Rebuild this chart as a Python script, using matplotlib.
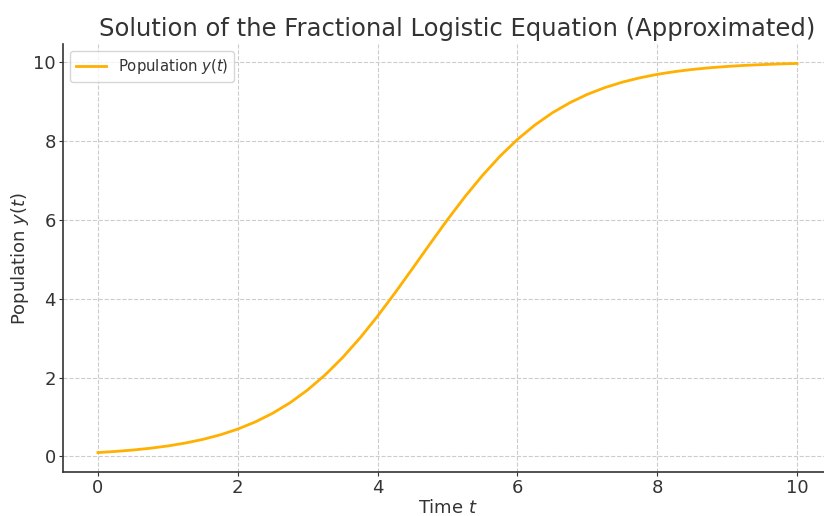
import matplotlib
matplotlib.use("Agg")
import matplotlib.pyplot as plt

t = [0.0, 0.25, 0.5, 0.75, 1.0, 1.25, 1.5, 1.75, 2.0, 2.25, 2.5, 2.75, 3.0, 3.25, 3.5, 3.75,
     4.0, 4.25, 4.5, 4.75, 5.0, 5.25, 5.5, 5.75, 6.0, 6.25, 6.5, 6.75, 7.0, 7.25, 7.5, 7.75,
     8.0, 8.25, 8.5, 8.75, 9.0, 9.25, 9.5, 9.75, 10.0]
y = [0.100, 0.128, 0.164, 0.209, 0.267, 0.341, 0.433, 0.549, 0.694, 0.875, 1.096, 1.364,
     1.687, 2.067, 2.507, 3.005, 3.555, 4.146, 4.762, 5.386, 5.999, 6.581, 7.118, 7.604,
     8.030, 8.396, 8.705, 8.961, 9.172, 9.343, 9.481, 9.591, 9.679, 9.748, 9.803, 9.846,
     9.879, 9.906, 9.926, 9.943, 9.955]

xticks = [0, 2, 4, 6, 8, 10]
yticks = [0, 2, 4, 6, 8, 10]

txt = "#333333"
plt.rcParams['font.family'] = ['DejaVu Sans']

fig = plt.figure(figsize=(8.24, 5.16), dpi=100)
ax = fig.add_axes([63/824, 44/516, 769/824, 428/516])
ax.plot(t, y, color="#FFB000", lw=2, label="Population $y(t)$", solid_joinstyle="round")
ax.set_xlim(-0.5, 10.5)
ax.margins(y=0.05)
ax.set_xticks(xticks)
ax.set_yticks(yticks)
ax.grid(True, linestyle="--", color="#cccccc", linewidth=0.8)
for s in ["top", "right"]:
    ax.spines[s].set_visible(False)
for s in ["left", "bottom"]:
    ax.spines[s].set_color(txt)
    ax.spines[s].set_linewidth(1.2)
ax.tick_params(colors=txt, labelsize=13, length=3, pad=2)
ax.set_xlabel("Time $t$", fontsize=13, color=txt, labelpad=1.5)
ax.set_ylabel("Population $y(t)$", fontsize=13, color=txt, labelpad=1.5)
ax.set_title("Solution of the Fractional Logistic Equation (Approximated)", fontsize=17.5,
             color=txt, x=(457 - 63) / 769)
leg = ax.legend(loc="upper left", fontsize=10.7)
for tx in leg.get_texts():
    tx.set_color(txt)
fig.savefig("out.png", dpi=100)
